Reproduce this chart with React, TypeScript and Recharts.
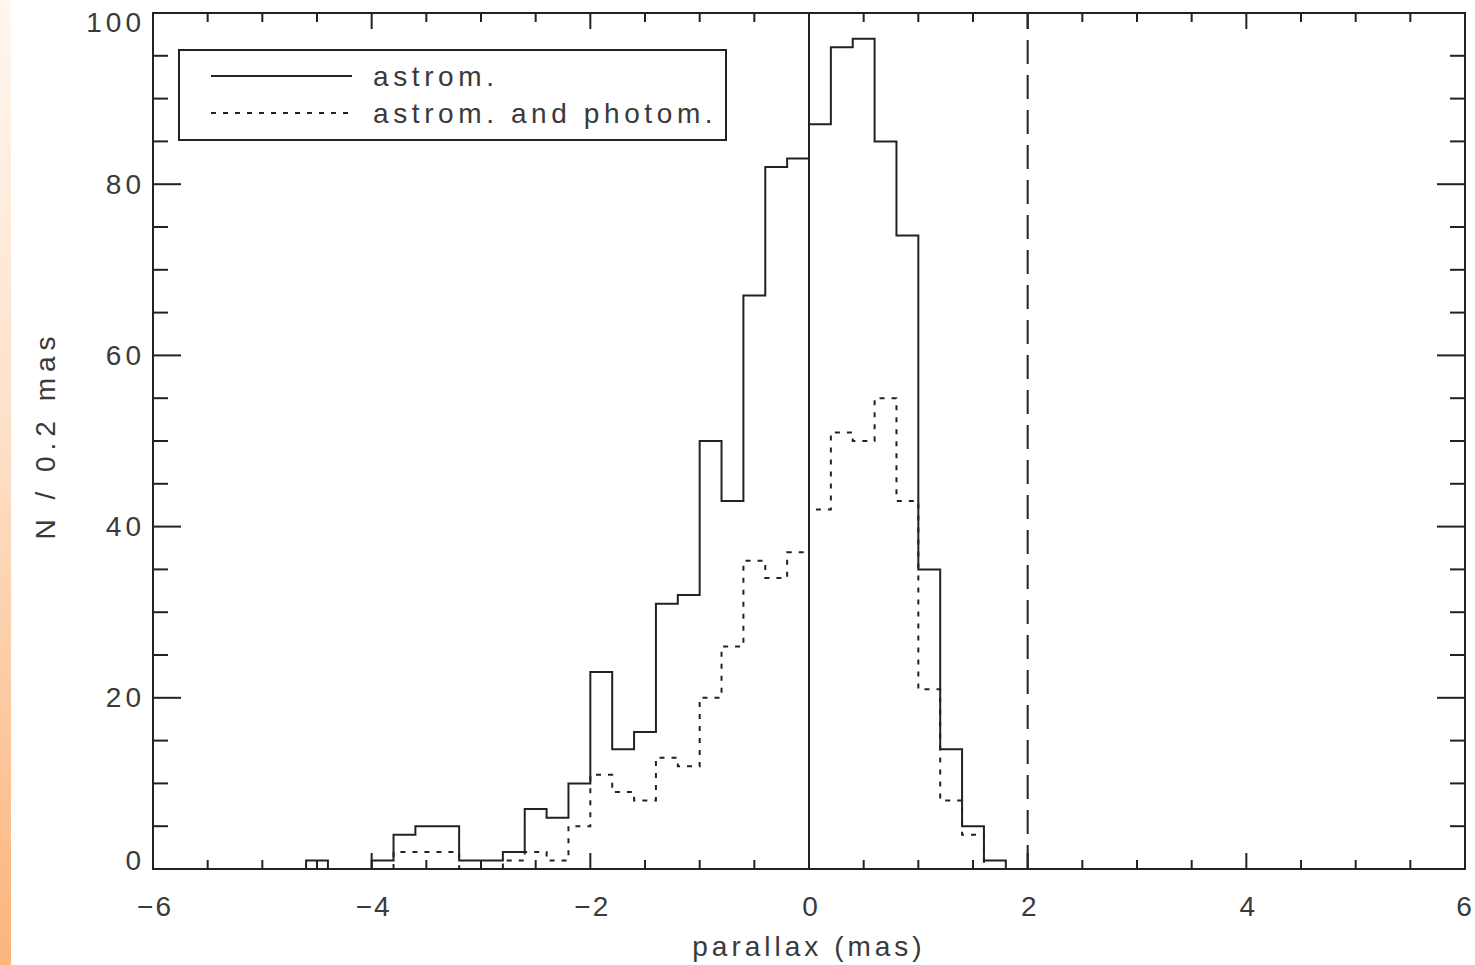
import React from "react";
import {
  ComposedChart,
  Line,
  XAxis,
  YAxis,
  ReferenceLine,
  ReferenceArea,
  Legend,
} from "recharts";

// histogram bins (lower edges, 0.2 mas wide)
const astromEdges = [
  -4.6, -4.4, -4.2, -4.0, -3.8, -3.6, -3.4, -3.2, -3.0, -2.8, -2.6, -2.4,
  -2.2, -2.0, -1.8, -1.6, -1.4, -1.2, -1.0, -0.8, -0.6, -0.4, -0.2, 0.0,
  0.2, 0.4, 0.6, 0.8, 1.0, 1.2, 1.4, 1.6,
];
const astromCounts = [
  1, 0, 0, 1, 4, 5, 5, 1, 1, 2, 7, 6,
  10, 23, 14, 16, 31, 32, 50, 43, 67, 82, 83, 87,
  96, 97, 85, 74, 35, 14, 5, 1,
];

const photomEdges = [
  -3.8, -3.6, -3.4, -3.2, -3.0, -2.8, -2.6, -2.4, -2.2, -2.0, -1.8, -1.6,
  -1.4, -1.2, -1.0, -0.8, -0.6, -0.4, -0.2, 0.0, 0.2, 0.4, 0.6, 0.8,
  1.0, 1.2, 1.4,
];
const photomCounts = [
  2, 2, 2, 0, 0, 1, 2, 1, 5, 11, 9, 8,
  13, 12, 20, 26, 36, 34, 37, 42, 51, 50, 55, 43,
  21, 8, 4,
];

const BIN = 0.2;

const xTicks = [
  -6, -5.5, -5, -4.5, -4, -3.5, -3, -2.5, -2, -1.5, -1, -0.5, 0,
  0.5, 1, 1.5, 2, 2.5, 3, 3.5, 4, 4.5, 5, 5.5, 6,
];
const xLabelTicks = [-6, -4, -2, 0, 2, 4, 6];
const yTicks = [
  0, 5, 10, 15, 20, 25, 30, 35, 40, 45, 50, 55, 60, 65, 70, 75, 80, 85,
  90, 95, 100,
];
const yLabelTicks = [0, 20, 40, 60, 80, 100];

const zeroLine = 0;
const cutLine = 2;

const W = 1475;
const H = 965;
const PLOT_LEFT = 153;
const PLOT_RIGHT = 1465;
const PLOT_TOP = 13;
const PLOT_BOTTOM = 869;

const INK = "#222";
const TEXT = "#3a3a3a";
const FONT = "'Liberation Sans', Arial, sans-serif";

function toSteps(edges: number[], counts: number[]) {
  const pts = [{ x: edges[0], n: 0 }];
  edges.forEach((e, i) => pts.push({ x: e, n: counts[i] }));
  const end = +(edges[edges.length - 1] + BIN).toFixed(2);
  pts.push({ x: end, n: counts[counts.length - 1] });
  pts.push({ x: end, n: 0 });
  return pts;
}

const astromSteps = toSteps(astromEdges, astromCounts);
const photomSteps = toSteps(photomEdges, photomCounts);

const textStyle = {
  fontFamily: FONT,
  fontSize: 28,
  letterSpacing: 4,
  fill: TEXT,
};

function fmt(v: number) {
  return v < 0 ? "\u2212" + Math.abs(v) : String(v);
}

function XTick(props: any) {
  const { x, payload } = props;
  const v = payload.value as number;
  const major = xLabelTicks.includes(v);
  const len = major ? 16 : 9;
  // keep the last label inside the page
  const tx = Math.min(x + 2, W - 10);
  return (
    <g>
      <line x1={x} x2={x} y1={PLOT_BOTTOM} y2={PLOT_BOTTOM - len} stroke={INK} strokeWidth={2} />
      <line x1={x} x2={x} y1={PLOT_TOP} y2={PLOT_TOP + len} stroke={INK} strokeWidth={2} />
      {major && (
        <text
          x={tx}
          y={PLOT_BOTTOM + 37}
          textAnchor="middle"
          dominantBaseline="central"
          style={{ ...textStyle, letterSpacing: 2 }}
        >
          {fmt(v)}
        </text>
      )}
    </g>
  );
}

function YTick(props: any) {
  const { y, payload } = props;
  const v = payload.value as number;
  const major = yLabelTicks.includes(v);
  const len = major ? 28 : 15;
  // end labels are nudged inward like the original
  const shift = v === 0 ? -9 : v === 100 ? 9 : 0;
  return (
    <g>
      <line x1={PLOT_LEFT} x2={PLOT_LEFT + len} y1={y} y2={y} stroke={INK} strokeWidth={2} />
      <line x1={PLOT_RIGHT} x2={PLOT_RIGHT - len} y1={y} y2={y} stroke={INK} strokeWidth={2} />
      {major && (
        <text x={PLOT_LEFT - 8} y={y + shift} textAnchor="end" dominantBaseline="central" style={textStyle}>
          {v}
        </text>
      )}
    </g>
  );
}

function LegendBox(props: any) {
  const items = props.payload ?? [];
  return (
    <svg width={549} height={92} style={{ display: "block" }}>
      <rect x={1} y={1} width={547} height={90} fill="#fff" stroke={INK} strokeWidth={2} />
      {items.map((it: any, i: number) => {
        const cy = 27 + i * 37;
        return (
          <g key={it.value}>
            <line
              x1={33}
              x2={174}
              y1={cy}
              y2={cy}
              stroke={INK}
              strokeWidth={2}
              strokeDasharray={it.payload?.strokeDasharray}
            />
            <text x={195} y={cy} dominantBaseline="central" style={{ ...textStyle, letterSpacing: 4.6 }}>
              {it.value}
            </text>
          </g>
        );
      })}
    </svg>
  );
}

export default function App() {
  return (
    <div style={{ position: "absolute", left: 0, top: 0, width: W, height: H, background: "#fff" }}>
      <div
        style={{
          position: "absolute",
          left: 0,
          top: 0,
          width: 11,
          height: H,
          background: "linear-gradient(#fff7f0, #fde0c8 45%, #fcb47b)",
        }}
      />
      <ComposedChart width={W} height={H} margin={{ top: PLOT_TOP, right: W - PLOT_RIGHT, bottom: 0, left: 0 }}>
        <XAxis
          type="number"
          dataKey="x"
          domain={[-6, 6]}
          ticks={xTicks}
          interval={0}
          allowDataOverflow
          height={H - PLOT_BOTTOM}
          axisLine={false}
          tickLine={false}
          tick={<XTick />}
          label={{
            content: (p: any) => {
              const vb = p.viewBox;
              return (
                <text x={vb.x + vb.width / 2} y={vb.y + 77} textAnchor="middle" dominantBaseline="central" style={textStyle}>
                  parallax (mas)
                </text>
              );
            },
          }}
        />
        <YAxis
          type="number"
          domain={[0, 100]}
          ticks={yTicks}
          interval={0}
          width={PLOT_LEFT}
          axisLine={false}
          tickLine={false}
          tick={<YTick />}
          label={{
            content: (p: any) => {
              const vb = p.viewBox;
              const cx = 45;
              const cy = vb.y + vb.height / 2 - 6;
              return (
                <text
                  x={cx}
                  y={cy}
                  textAnchor="middle"
                  dominantBaseline="central"
                  transform={`rotate(-90 ${cx} ${cy})`}
                  style={{ ...textStyle, letterSpacing: 6 }}
                >
                  N / 0.2 mas
                </text>
              );
            },
          }}
        />
        <ReferenceArea
          x1={-6}
          x2={6}
          y1={0}
          y2={100}
          fill="none"
          fillOpacity={0}
          stroke={INK}
          strokeWidth={2}
          ifOverflow="visible"
        />
        <ReferenceLine x={zeroLine} stroke={INK} strokeWidth={2} />
        <ReferenceLine x={cutLine} stroke={INK} strokeWidth={2} strokeDasharray="24 11" />
        <Line
          data={astromSteps}
          dataKey="n"
          name="astrom."
          type="stepAfter"
          stroke={INK}
          strokeWidth={2}
          dot={false}
          activeDot={false}
          isAnimationActive={false}
        />
        <Line
          data={photomSteps}
          dataKey="n"
          name="astrom. and photom."
          type="stepAfter"
          stroke={INK}
          strokeWidth={2}
          strokeDasharray="5 7"
          dot={false}
          activeDot={false}
          isAnimationActive={false}
        />
        <Legend
          layout="vertical"
          align="center"
          verticalAlign="middle"
          width={549}
          height={92}
          wrapperStyle={{ left: 178, top: 49, width: 549, height: 92 }}
          content={<LegendBox />}
        />
      </ComposedChart>
    </div>
  );
}
